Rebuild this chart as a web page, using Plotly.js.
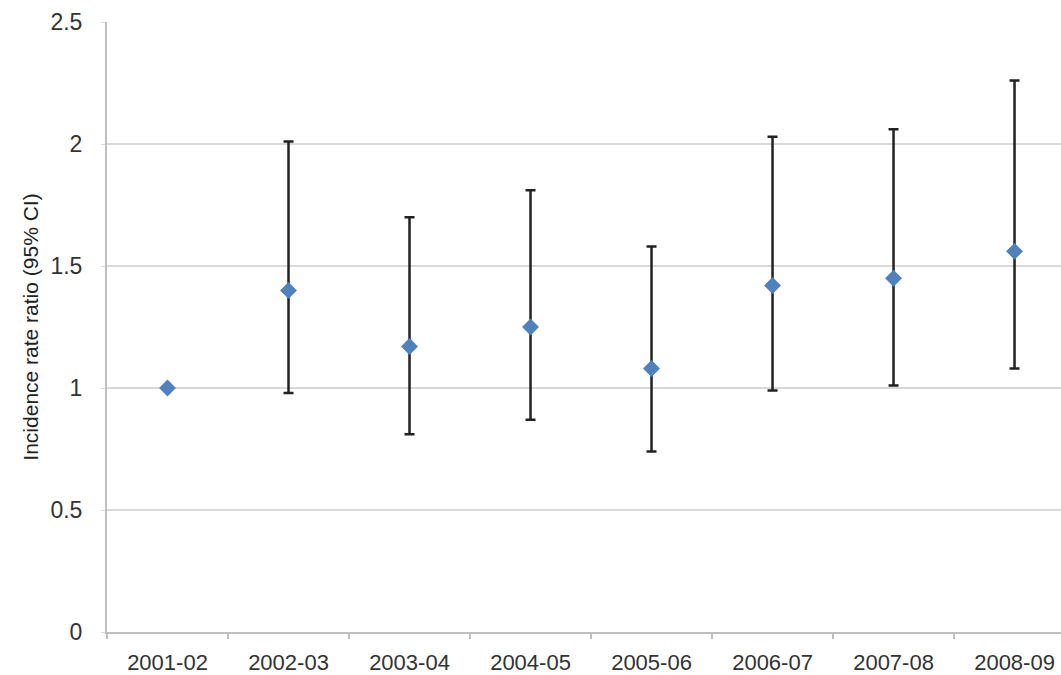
<!DOCTYPE html>
<html>
<head>
<meta charset="utf-8">
<script src="https://cdn.plot.ly/plotly-3.0.1.min.js"></script>
<style>html,body{margin:0;padding:0;background:#fff;overflow:hidden}#chart{width:1061px;height:675px}</style>
</head>
<body>
<div id="chart"></div>
<script>
const years = ["2001-02","2002-03","2003-04","2004-05","2005-06","2006-07","2007-08","2008-09"];
const irr   = [1.00, 1.40, 1.17, 1.25, 1.08, 1.42, 1.45, 1.56];
const upper = [1.00, 2.01, 1.70, 1.81, 1.58, 2.03, 2.06, 2.26];
const lower = [1.00, 0.98, 0.81, 0.87, 0.74, 0.99, 1.01, 1.08];

const plus  = irr.map((v,i)=>+(upper[i]-v).toFixed(3));
const minus = irr.map((v,i)=>+(v-lower[i]).toFixed(3));

const trace = {
  type: "scatter",
  mode: "markers",
  x: years,
  y: irr,
  marker: {symbol: "diamond", size: 13, color: "#4f81bd"},
  error_y: {type: "data", symmetric: false, array: plus, arrayminus: minus,
            color: "#222", thickness: 2.5, width: 5},
  showlegend: false,
  cliponaxis: false
};

const layout = {
  width: 1061, height: 675,
  margin: {l: 107, r: 0, t: 22, b: 43},
  paper_bgcolor: "#fff", plot_bgcolor: "#fff",
  font: {family: "Liberation Sans, Arial, sans-serif", color: "#333"},
  xaxis: {
    type: "category",
    range: [-0.5, 7.384],
    showgrid: false, zeroline: false,
    showline: true, linecolor: "#bfbfbf", linewidth: 2,
    ticks: "outside", tickson: "boundaries", ticklen: 5, tickcolor: "#bfbfbf", tickwidth: 2,
    tickfont: {size: 22, color: "#333"},
    ticklabelstandoff: 10
  },
  yaxis: {
    range: [0, 2.5],
    tickvals: [0, 0.5, 1, 1.5, 2, 2.5],
    ticktext: ["0", "0.5", "1", "1.5", "2", "2.5"],
    showgrid: true, gridcolor: "#d9d9d9", gridwidth: 2,
    zeroline: false,
    showline: true, linecolor: "#bfbfbf", linewidth: 2,
    ticks: "outside", ticklen: 4, tickcolor: "#d9d9d9",
    tickfont: {size: 23, color: "#333"},
    ticklabelstandoff: 14,
    title: {text: "Incidence rate ratio (95% CI)", font: {size: 21, color: "#222"}, standoff: 6}
  }
};

Plotly.newPlot("chart", [trace], layout, {displayModeBar: false, staticPlot: true});
</script>
</body>
</html>
